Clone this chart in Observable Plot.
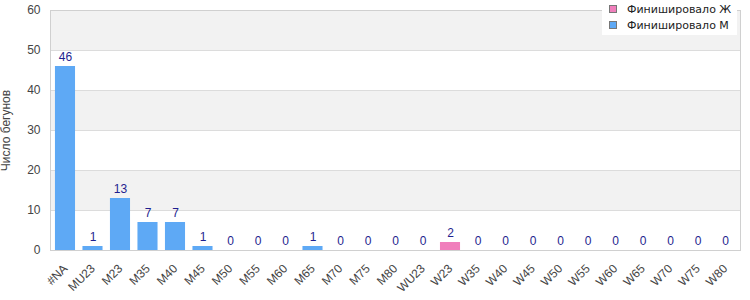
<!DOCTYPE html>
<html><head><meta charset="utf-8">
<script src="https://cdn.jsdelivr.net/npm/d3@7"></script>
<script src="https://cdn.jsdelivr.net/npm/@observablehq/plot@0.6"></script>
<style>
body{margin:0;background:#fff;font-family:"Liberation Sans",Arial,sans-serif;}
#wrap{position:relative;width:750px;height:300px;}
#legend{position:absolute;left:602px;top:0px;width:135px;height:35px;box-sizing:border-box;background:#fff;padding:1px 0 0 7px;font-family:"DejaVu Sans",sans-serif;font-size:11px;color:#222;}
#legend div{display:flex;align-items:center;height:16px;}
#legend span.sw{display:inline-block;width:6px;height:6px;border:1px solid #777;margin-right:10px;}
</style></head><body>
<div id="wrap"><div id="chart"></div><div id="legend"></div></div>
<script>
const categories = ["#NA","MU23","M23","M35","M40","M45","M50","M55","M60","M65","M70","M75","M80","WU23","W23","W35","W40","W45","W50","W55","W60","W65","W70","W75","W80"];
const values = [46,1,13,7,7,1,0,0,0,1,0,0,0,0,2,0,0,0,0,0,0,0,0,0,0];
const series = ["М","М","М","М","М","М","М","М","М","М","М","М","М","Ж","Ж","Ж","Ж","Ж","Ж","Ж","Ж","Ж","Ж","Ж","Ж"];
const seriesNames = ["Ж","М"];
const seriesColors = ["#f07fbc","#5ea9f5"];
const legendLabels = ["Финишировало Ж","Финишировало М"];
const yTicks = [0,10,20,30,40,50,60];

const data = categories.map((c,i)=>({cat:c, value:values[i], s:series[i]}));
const bands = yTicks.slice(0,-1).map((t,i)=>({y1:t, y2:yTicks[i+1], shade: (yTicks.length-2-i)%2===0}));

const chart = Plot.plot({
  width:750, height:300,
  marginLeft:50, marginRight:10, marginTop:10, marginBottom:50,
  style:{fontFamily:"Liberation Sans, Arial, sans-serif", fontSize:"12px", color:"#444", background:"#fff"},
  x:{domain:categories, paddingInner:0.27, paddingOuter:0.18, round:false, label:null},
  y:{domain:[0,60], label:null},
  color:{domain:seriesNames, range:seriesColors},
  marks:[
    Plot.rectY(bands.filter(d=>d.shade), {y1:"y1", y2:"y2", fill:"#f2f2f2"}),
    Plot.gridY(yTicks, {stroke:"#dcdcdc", strokeOpacity:1}),
    Plot.barY(data, {x:"cat", y:"value", fill:"s"}),
    Plot.text(data, {x:"cat", y:"value", text:d=>String(d.value), dy:-9, fill:"#1f1f8f", fontSize:12}),
    Plot.frame({stroke:"#d0d0d0"}),
    Plot.axisY({ticks:yTicks, tickSize:0, tickPadding:10, label:"Число бегунов", labelAnchor:"center", labelArrow:"none", labelOffset:49, fontSize:12, fill:"#444"}),
    Plot.axisX({tickRotate:-45, tickSize:0, tickPadding:16, dx:0, label:null, fontSize:12, fill:"#444"})
  ]
});
document.getElementById("chart").appendChild(chart);

const lg = document.getElementById("legend");
legendLabels.forEach((t,i)=>{
  const row=document.createElement("div");
  const sw=document.createElement("span"); sw.className="sw"; sw.style.background=seriesColors[i];
  row.appendChild(sw); row.appendChild(document.createTextNode(t)); lg.appendChild(row);
});
</script></body></html>
